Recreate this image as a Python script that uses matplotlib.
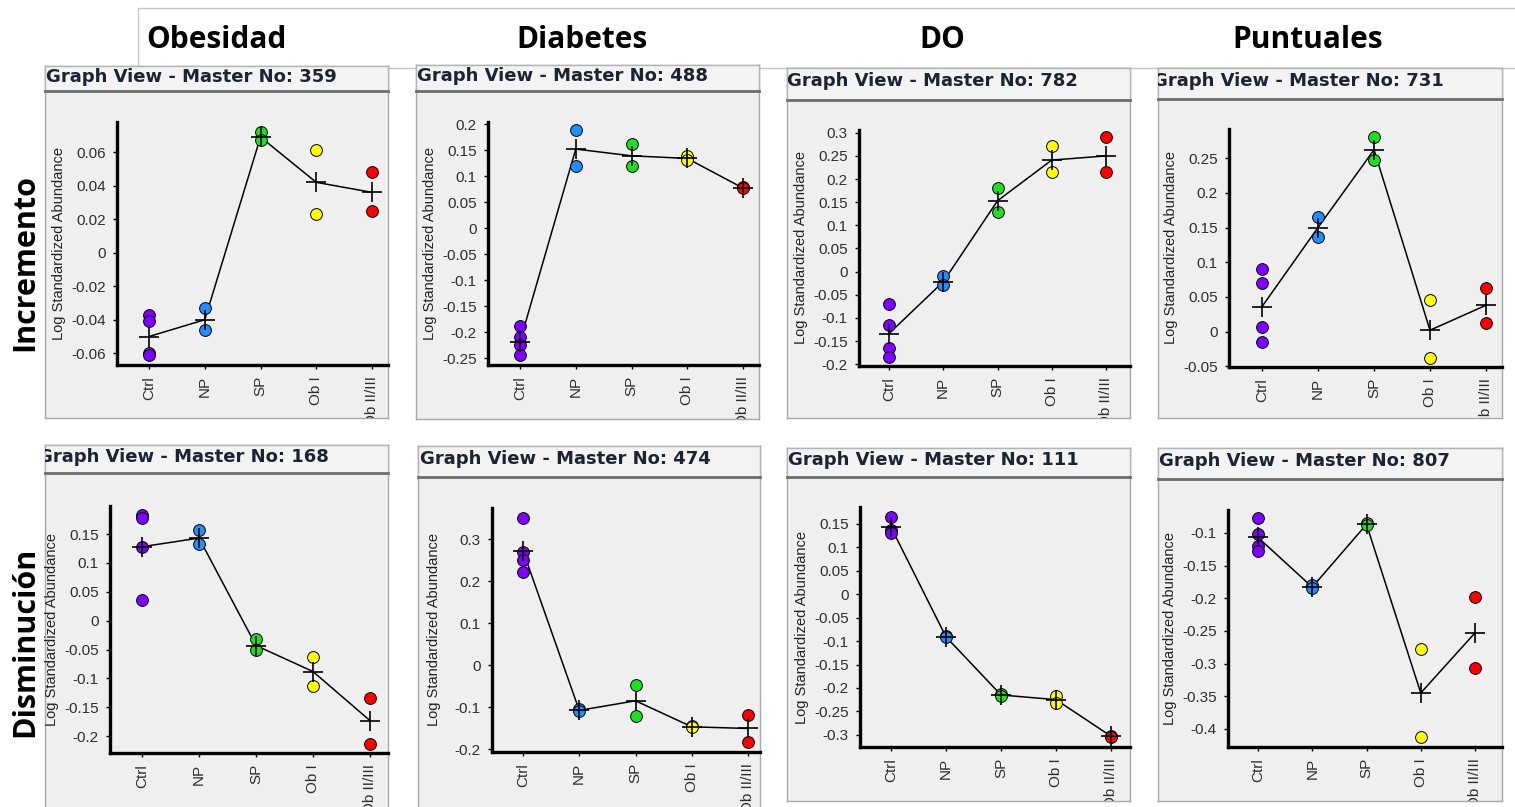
import matplotlib
matplotlib.use('Agg')
import matplotlib.pyplot as plt
from matplotlib.patches import Rectangle

W, H = 1515, 807            # output size in pixels
DPI = 100

COLUMN_TITLES = ['Obesidad', 'Diabetes', 'DO', 'Puntuales']
ROW_TITLES = ['Incremento', 'Disminución']
CATEGORIES = ['Ctrl', 'NP', 'SP', 'Ob I', 'Ob II/III']
GROUP_COLORS = ['#8000ff', '#1e8fff', '#1ee01e', '#ffff00', '#ff0000']

# ---- spot values (one list per group) and group means ----
SPOTS_359 = [[-0.037, -0.041, -0.060, -0.061], [-0.033, -0.046], [0.072, 0.067], [0.061, 0.023], [0.048, 0.025]]
MEANS_359 = [-0.050, -0.040, 0.069, 0.042, 0.036]
YTICKS_359 = [-0.06, -0.04, -0.02, 0, 0.02, 0.04, 0.06]

SPOTS_488 = [[-0.188, -0.210, -0.225, -0.243], [0.188, 0.120], [0.162, 0.120], [0.139, 0.131], [0.080, 0.078]]
MEANS_488 = [-0.218, 0.152, 0.139, 0.134, 0.077]
YTICKS_488 = [-0.25, -0.2, -0.15, -0.1, -0.05, 0, 0.05, 0.1, 0.15, 0.2]

SPOTS_782 = [[-0.070, -0.115, -0.165, -0.185], [-0.010, -0.030], [0.180, 0.128], [0.272, 0.215], [0.290, 0.215]]
MEANS_782 = [-0.134, -0.022, 0.153, 0.241, 0.250]
YTICKS_782 = [-0.2, -0.15, -0.1, -0.05, 0, 0.05, 0.1, 0.15, 0.2, 0.25, 0.3]

SPOTS_731 = [[0.090, 0.070, 0.007, -0.015], [0.165, 0.137], [0.280, 0.248], [0.045, -0.038], [0.063, 0.012]]
MEANS_731 = [0.036, 0.150, 0.262, 0.002, 0.038]
YTICKS_731 = [-0.05, 0, 0.05, 0.1, 0.15, 0.2, 0.25]

SPOTS_168 = [[0.183, 0.177, 0.128, 0.035], [0.157, 0.133], [-0.032, -0.050], [-0.062, -0.113], [-0.133, -0.213]]
MEANS_168 = [0.128, 0.143, -0.043, -0.088, -0.173]
YTICKS_168 = [-0.2, -0.15, -0.1, -0.05, 0, 0.05, 0.1, 0.15]

SPOTS_474 = [[0.350, 0.270, 0.250, 0.222], [-0.105, -0.110], [-0.048, -0.122], [-0.145, -0.148], [-0.120, -0.182]]
MEANS_474 = [0.272, -0.108, -0.085, -0.147, -0.151]
YTICKS_474 = [-0.2, -0.1, 0, 0.1, 0.2, 0.3]

SPOTS_111 = [[0.165, 0.138, 0.130], [-0.090, -0.092], [-0.213, -0.218], [-0.218, -0.232], [-0.302, -0.305]]
MEANS_111 = [0.143, -0.091, -0.215, -0.225, -0.303]
YTICKS_111 = [-0.3, -0.25, -0.2, -0.15, -0.1, -0.05, 0, 0.05, 0.1, 0.15]

SPOTS_807 = [[-0.078, -0.102, -0.120, -0.127], [-0.180, -0.185], [-0.085, -0.088], [-0.277, -0.413], [-0.198, -0.307]]
MEANS_807 = [-0.107, -0.183, -0.087, -0.345, -0.253]
YTICKS_807 = [-0.4, -0.35, -0.3, -0.25, -0.2, -0.15, -0.1]

PANELS = [
    (359, SPOTS_359, MEANS_359, YTICKS_359),
    (488, SPOTS_488, MEANS_488, YTICKS_488),
    (782, SPOTS_782, MEANS_782, YTICKS_782),
    (731, SPOTS_731, MEANS_731, YTICKS_731),
    (168, SPOTS_168, MEANS_168, YTICKS_168),
    (474, SPOTS_474, MEANS_474, YTICKS_474),
    (111, SPOTS_111, MEANS_111, YTICKS_111),
    (807, SPOTS_807, MEANS_807, YTICKS_807),
]

# ---- layout in pixels: box (x0, top, x1, bottom), header line y, axes left/top/bottom,
#      first category x, category spacing, y-limits, header text offset
LAYOUT = [
    dict(box=(45, 66, 388, 418), hdr=91, ax=(117, 122, 365), c0=149, dc=55.75, ylim=(-0.067, 0.078), tdx=1),
    dict(box=(416, 65, 759, 419), hdr=91, ax=(488, 122, 365), c0=520, dc=55.75, ylim=(-0.263, 0.204), tdx=1),
    dict(box=(787, 68, 1130, 418), hdr=100, ax=(859, 130, 366), c0=889, dc=54.25, ylim=(-0.204, 0.306), tdx=0),
    dict(box=(1158, 68, 1502, 418), hdr=99, ax=(1229, 129, 367), c0=1262, dc=56.0, ylim=(-0.051, 0.292), tdx=-5),
    dict(box=(45, 445, 388, 812), hdr=473, ax=(110, 506, 753), c0=142, dc=57.0, ylim=(-0.229, 0.1985), tdx=-7),
    dict(box=(418, 446, 760, 812), hdr=477, ax=(492, 508, 752), c0=523, dc=56.25, ylim=(-0.207, 0.374), tdx=2),
    dict(box=(787, 448, 1130, 801), hdr=477, ax=(860, 507, 747), c0=891, dc=55.0, ylim=(-0.326, 0.186), tdx=1),
    dict(box=(1158, 448, 1502, 801), hdr=479, ax=(1228, 510, 747), c0=1258, dc=54.25, ylim=(-0.4276, -0.065), tdx=1),
]

COL_TITLE_X = [216, 582, 942, 1308]
ROW_TITLE_Y = [262, 642]


def fig_rect(x0, y0, x1, y1):
    # pixel box (top-left origin) -> figure fraction [left, bottom, width, height]
    return [x0 / W, 1 - y1 / H, (x1 - x0) / W, (y1 - y0) / H]


fig = plt.figure(figsize=(W / DPI, H / DPI), dpi=DPI)
fig.patch.set_facecolor('white')

# white title band behind the column titles
band = Rectangle((138 / W, 1 - 68 / H), (W + 10 - 138) / W, 60 / H, transform=fig.transFigure,
                 facecolor='white', edgecolor='#c6c6c6', lw=1, zorder=0.5)
fig.patches.append(band)

for title, cx in zip(COLUMN_TITLES, COL_TITLE_X):
    fig.text(cx / W, 1 - 40 / H, title, ha='center', va='center', fontsize=21.5,
             fontweight='bold', family='Open Sans', color='black')
for title, cy in zip(ROW_TITLES, ROW_TITLE_Y):
    fig.text(25 / W, 1 - cy / H, title, ha='center', va='center', rotation=90,
             fontsize=22, fontweight='bold', family='Open Sans', color='black')


def draw_panel(master, spots, means, yticks, lay):
    bx0, btop, bx1, bbot = lay['box']
    left, top, bottom = lay['ax']

    box = fig.add_axes(fig_rect(bx0, btop, bx1, bbot), zorder=1)
    box.set_facecolor('#efefef')
    box.set_xticks([])
    box.set_yticks([])
    for s in box.spines.values():
        s.set_color('#a8a8a8')
        s.set_linewidth(1)

    hdr = fig.add_axes(fig_rect(bx0, btop, bx1, lay['hdr']), zorder=2)
    hdr.set_facecolor('#f3f3f3')
    hdr.set_xticks([])
    hdr.set_yticks([])
    for s in hdr.spines.values():
        s.set_color('#b4b4b4')
        s.set_linewidth(1)
    hdr.spines['bottom'].set_color('#6c6c6c')
    hdr.spines['bottom'].set_linewidth(2)
    t = hdr.text(lay['tdx'] / (bx1 - bx0), 0.58, f'Graph View - Master No: {master}',
                 transform=hdr.transAxes, ha='left', va='center', fontsize=13,
                 fontweight='bold', family='DejaVu Sans', color='#1b2433')
    t.set_clip_box(hdr.bbox)
    t.set_clip_on(True)

    ax = fig.add_axes(fig_rect(left, top, bx1, bottom), zorder=3)
    ax.patch.set_alpha(0)
    x = list(range(len(CATEGORIES)))
    ax.set_xlim(-(lay['c0'] - left) / lay['dc'], 4 + (bx1 - (lay['c0'] + 4 * lay['dc'])) / lay['dc'])
    ax.set_ylim(*lay['ylim'])

    ax.plot(x, means, color='black', lw=1.1, zorder=2)
    for i, vals in enumerate(spots):
        ax.scatter([i] * len(vals), vals, s=72, c=GROUP_COLORS[i], edgecolors='black',
                   linewidths=0.7, zorder=3, clip_on=False)
    ax.plot(x, means, '+', ms=15, mew=1.2, color='black', zorder=4, clip_on=False)

    ax.set_yticks(yticks, labels=[f'{v:g}' for v in yticks])
    ax.set_xticks(x, labels=CATEGORIES, rotation=90)
    ax.tick_params(axis='both', length=3, width=1, color='black', labelsize=11,
                   labelcolor='#2e2e2e', pad=5)
    for lab in ax.get_xticklabels() + ax.get_yticklabels():
        lab.set_family('Liberation Sans')
    for lab in ax.get_xticklabels():
        lab.set_clip_box(box.bbox)
        lab.set_clip_on(True)

    for side in ['top', 'right']:
        ax.spines[side].set_visible(False)
    for side in ['left', 'bottom']:
        ax.spines[side].set_linewidth(2.4)
        ax.spines[side].set_color('black')

    fig.text((left - 58) / W, 1 - (top + bottom) / 2 / H, 'Log Standardized Abundance',
             rotation=90, ha='center', va='center', fontsize=10.5, family='Liberation Sans',
             color='#222222', zorder=4)


for (master, spots, means, yticks), lay in zip(PANELS, LAYOUT):
    draw_panel(master, spots, means, yticks, lay)

fig.savefig('out.png', dpi=DPI)
